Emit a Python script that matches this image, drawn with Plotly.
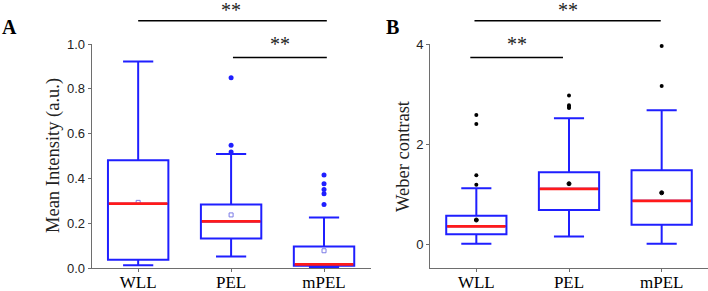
import plotly.graph_objects as go

categories = ["WLL", "PEL", "mPEL"]

# Panel A: Mean Intensity (a.u.)
a_low = [0.012, 0.051, 0.004]
a_q1 = [0.037, 0.132, 0.010]
a_med = [0.287, 0.208, 0.016]
a_q3 = [0.481, 0.283, 0.096]
a_high = [0.922, 0.509, 0.226]
a_mean = [0.293, 0.237, 0.077]
a_out_x = ["PEL", "PEL", "PEL", "mPEL", "mPEL", "mPEL", "mPEL", "mPEL"]
a_out_y = [0.849, 0.548, 0.518, 0.415, 0.376, 0.351, 0.332, 0.284]

# Panel B: Weber contrast
b_low = [0.007, 0.154, 0.007]
b_q1 = [0.20, 0.685, 0.389]
b_med = [0.356, 1.107, 0.866]
b_q3 = [0.57, 1.436, 1.477]
b_high = [1.12, 2.517, 2.678]
b_mean = [0.483, 1.208, 1.027]
b_out_x = ["WLL", "WLL", "WLL", "WLL", "PEL", "PEL", "PEL", "PEL", "mPEL", "mPEL"]
b_out_y = [2.58, 2.40, 1.376, 1.19, 2.97, 2.775, 2.74, 2.72, 3.96, 3.16]

BLUE = "#1f1fff"
RED = "#ff1a1a"
AXC = "#6e6e6e"
BOXW = 0.65

fig = go.Figure()

def add_panel(xa, ya, low, q1, med, q3, high, mean, ox, oy, outcol, outsize, meansym, meancol, meansize):
    fig.add_trace(go.Box(
        x=categories, q1=q1, median=med, q3=q3, lowerfence=low, upperfence=high,
        width=BOXW, whiskerwidth=0.5, boxpoints=False,
        line=dict(color=BLUE, width=2), fillcolor="rgba(0,0,0,0)",
        xaxis=xa, yaxis=ya, showlegend=False, hoverinfo="skip"))
    fig.add_trace(go.Scatter(
        x=ox, y=oy, mode="markers", marker=dict(color=outcol, size=outsize, symbol="circle"),
        xaxis=xa, yaxis=ya, showlegend=False, hoverinfo="skip"))
    fig.add_trace(go.Scatter(
        x=categories, y=mean, mode="markers",
        marker=dict(color=meancol, size=meansize, symbol=meansym, line=dict(color=meancol, width=1)),
        xaxis=xa, yaxis=ya, showlegend=False, hoverinfo="skip"))
    xr = "x" if xa == "x" else "x2"
    yr = "y" if ya == "y" else "y2"
    for i, m in enumerate(med):
        fig.add_shape(type="line", xref=xr, yref=yr, x0=i - BOXW / 2 + 0.01, x1=i + BOXW / 2 - 0.01,
                      y0=m, y1=m, line=dict(color=RED, width=2.8), layer="above")

add_panel("x", "y", a_low, a_q1, a_med, a_q3, a_high, a_mean, a_out_x, a_out_y,
          BLUE, 5, "square-open", "#7b7be6", 4)
add_panel("x2", "y2", b_low, b_q1, b_med, b_q3, b_high, b_mean, b_out_x, b_out_y,
          "black", 4, "circle", "black", 4)

# significance bars (paper y: plot top = 1.0 at 44.3px, bottom = 0 at 268.3px)
def py(p):
    return (268.3 - p) / 224.0

sig = [
    ("x", 0.0, 2.03, 21.0, 1.0, 10.0),
    ("x", 1.02, 2.03, 57.7, 1.525, 44.5),
    ("x2", -0.02, 1.99, 21.0, 0.987, 10.0),
    ("x2", -0.065, 0.935, 57.7, 0.436, 44.5),
]
for xr, x0, x1, ly, tx, ty in sig:
    fig.add_shape(type="line", xref=xr, yref="paper", x0=x0, x1=x1, y0=py(ly), y1=py(ly),
                  line=dict(color="black", width=1.5))
    fig.add_annotation(xref=xr, yref="paper", x=tx, y=py(ty), text="**", showarrow=False,
                       font=dict(family="Liberation Serif", size=20, color="#222"),
                       xanchor="center", yanchor="middle")

# panel letters
for txt, px in [("A", 9.0), ("B", 392.0)]:
    fig.add_annotation(xref="paper", yref="paper", x=px / 708.0, y=py(27), text="<b>%s</b>" % txt,
                       showarrow=False, font=dict(family="Liberation Serif", size=20, color="black"),
                       xanchor="center", yanchor="middle")

# axis titles
fig.add_annotation(xref="paper", yref="paper", x=53 / 708.0, y=0.5, text="Mean Intensity (a.u.)",
                   textangle=-90, showarrow=False, xanchor="center", yanchor="middle",
                   font=dict(family="Liberation Serif", size=18.5, color="#222"))
fig.add_annotation(xref="paper", yref="paper", x=403 / 708.0, y=py(156.3), text="Weber contrast",
                   textangle=-90, showarrow=False, xanchor="center", yanchor="middle",
                   font=dict(family="Liberation Serif", size=18.5, color="#222"))

xcommon = dict(type="category", range=[-0.5, 2.5], showline=True, linecolor=AXC, linewidth=1,
               ticks="outside", ticklen=3, tickcolor=AXC, showgrid=False, zeroline=False,
               automargin=False, ticklabelstandoff=-4,
               tickfont=dict(family="Liberation Serif", size=17, color="black"))
ycommon = dict(showline=True, linecolor=AXC, linewidth=1, ticks="outside", ticklen=3,
               tickcolor=AXC, showgrid=False, zeroline=False, automargin=False,
               tickfont=dict(family="Liberation Sans", size=13, color="#222"))

fig.update_layout(
    width=708, height=291, plot_bgcolor="white", paper_bgcolor="white",
    margin=dict(l=0, r=0, t=44.3, b=22.7),
    xaxis=dict(domain=[91.7 / 708, 370.5 / 708], anchor="y", **xcommon),
    xaxis2=dict(domain=[430 / 708, 1.0], anchor="y2", **xcommon),
    yaxis=dict(domain=[0, 1], anchor="x", range=[0, 1.0], tickvals=[0, 0.2, 0.4, 0.6, 0.8, 1.0],
               ticktext=["0.0", "0.2", "0.4", "0.6", "0.8", "1.0"], **ycommon),
    yaxis2=dict(domain=[0, 1], anchor="x2", range=[-0.476, 4.0], tickvals=[0, 2, 4], **ycommon),
)

fig.write_html("out.html", config={"displayModeBar": False},
               post_script="document.body.style.margin='0';document.body.style.overflow='hidden';")
